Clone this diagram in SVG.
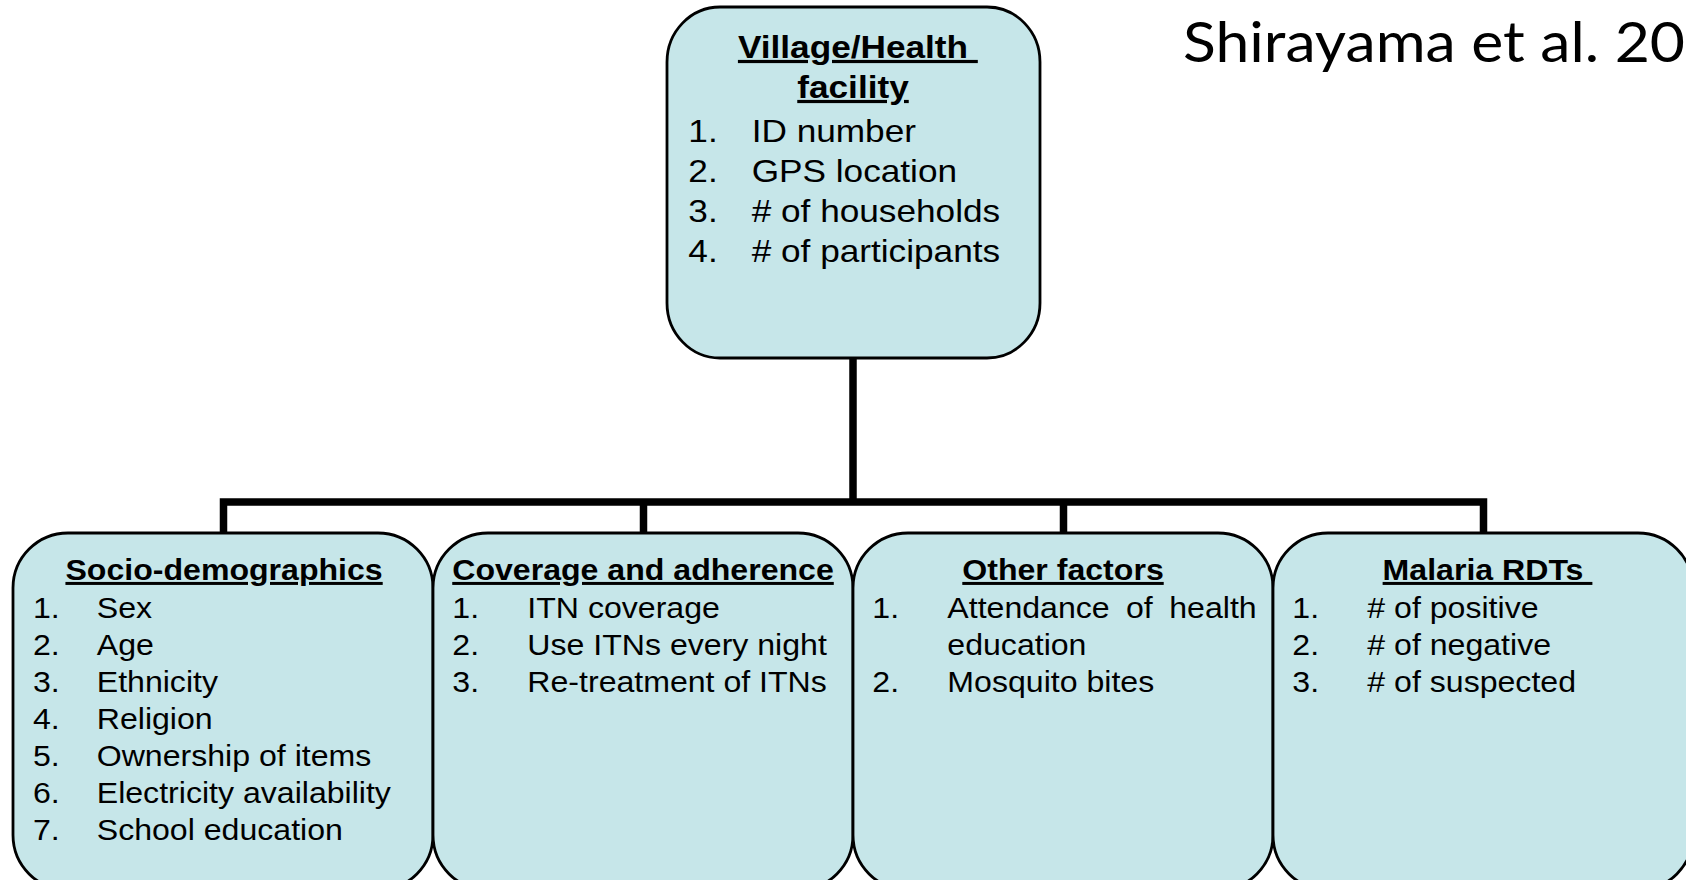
<svg xmlns="http://www.w3.org/2000/svg" width="1686" height="880" viewBox="0 0 1686 880">
<style>
.box{fill:#C6E6E9;stroke:#000;stroke-width:2.8}
.conn{fill:none;stroke:#000;stroke-width:7.5;stroke-linejoin:miter;stroke-linecap:butt}
.t{font-family:"Liberation Sans",Arial,sans-serif;fill:#000}
.top{font-size:32px}
.bot{font-size:30px}
.hd{font-weight:bold;text-decoration:underline;text-anchor:middle;white-space:pre}
.cite{font-family:Lato,"Open Sans",sans-serif;font-size:56px;fill:#000}
</style>
<rect width="1686" height="880" fill="#fff"/>
<g id="connectors">
<path class="conn" d="M853,358 V502"/>
<path class="conn" d="M223.5,534 V502 H1483.5 V534"/>
<path class="conn" d="M643.5,502 V534"/>
<path class="conn" d="M1063.5,502 V534"/>
</g>
<g id="node-village">
<rect class="box" x="667" y="7" width="373" height="351" rx="53" ry="55"/>
<g class="t top" transform="translate(853,0) scale(1.1,1)">
<text class="hd" x="4.4" y="58" xml:space="preserve">Village/Health </text>
<text class="hd" x="0" y="98">facility</text>
<text x="-149.7" y="142">1.</text><text x="-92.1" y="142">ID number</text>
<text x="-149.7" y="182">2.</text><text x="-92.1" y="182">GPS location</text>
<text x="-149.7" y="222">3.</text><text x="-92.1" y="222"># of households</text>
<text x="-149.7" y="262">4.</text><text x="-92.1" y="262"># of participants</text>
</g>
</g>
<g id="node-socio">
<rect class="box" x="13" y="533" width="420" height="357" rx="55" ry="55"/>
<g class="t bot" transform="translate(223,0) scale(1.07,1)">
<text class="hd" x="1" y="580">Socio-demographics</text>
<text x="-177.6" y="618">1.</text><text x="-118" y="618">Sex</text>
<text x="-177.6" y="655">2.</text><text x="-118" y="655">Age</text>
<text x="-177.6" y="692">3.</text><text x="-118" y="692">Ethnicity</text>
<text x="-177.6" y="729">4.</text><text x="-118" y="729">Religion</text>
<text x="-177.6" y="766">5.</text><text x="-118" y="766">Ownership of items</text>
<text x="-177.6" y="803">6.</text><text x="-118" y="803">Electricity availability</text>
<text x="-177.6" y="840">7.</text><text x="-118" y="840">School education</text>
</g>
</g>
<g id="node-coverage">
<rect class="box" x="433" y="533" width="420" height="357" rx="55" ry="55"/>
<g class="t bot" transform="translate(643,0) scale(1.07,1)">
<text class="hd" x="0" y="580">Coverage and adherence</text>
<text x="-178.2" y="618">1.</text><text x="-108.1" y="618">ITN coverage</text>
<text x="-178.2" y="655">2.</text><text x="-108.1" y="655">Use ITNs every night</text>
<text x="-178.2" y="692">3.</text><text x="-108.1" y="692">Re-treatment of ITNs</text>
</g>
</g>
<g id="node-other">
<rect class="box" x="853" y="533" width="420" height="357" rx="55" ry="55"/>
<g class="t bot" transform="translate(1063,0) scale(1.07,1)">
<text class="hd" x="0" y="580">Other factors</text>
<text x="-178.2" y="618">1.</text>
<text y="618"><tspan x="-108.1">Attendance</tspan><tspan x="58.9">of</tspan><tspan x="99.3">health</tspan></text>
<text x="-108.1" y="655">education</text>
<text x="-178.2" y="692">2.</text><text x="-108.1" y="692">Mosquito bites</text>
</g>
</g>
<g id="node-malaria">
<rect class="box" x="1273" y="533" width="420" height="357" rx="55" ry="55"/>
<g class="t bot" transform="translate(1483,0) scale(1.07,1)">
<text class="hd" x="4.2" y="580" xml:space="preserve">Malaria RDTs </text>
<text x="-178.2" y="618">1.</text><text x="-108.1" y="618"># of positive</text>
<text x="-178.2" y="655">2.</text><text x="-108.1" y="655"># of negative</text>
<text x="-178.2" y="692">3.</text><text x="-108.1" y="692"># of suspected</text>
</g>
</g>
<g id="citation">
<text class="cite" x="1183" y="62" textLength="502" lengthAdjust="spacingAndGlyphs">Shirayama et al. 20</text>
</g>
</svg>
